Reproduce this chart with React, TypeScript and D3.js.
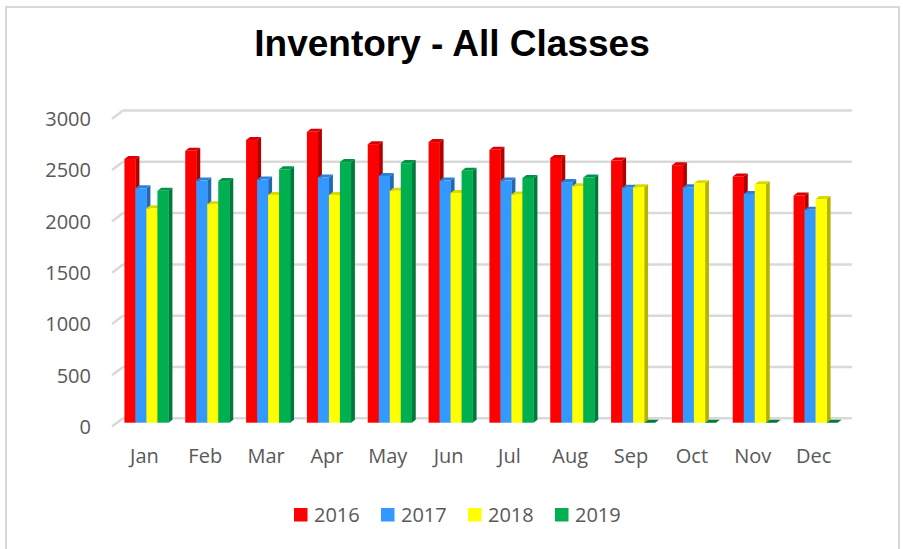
import { useEffect, useRef } from "react";
import * as d3 from "d3";

const months = ["Jan", "Feb", "Mar", "Apr", "May", "Jun", "Jul", "Aug", "Sep", "Oct", "Nov", "Dec"];
const years = ["2016", "2017", "2018", "2019"];

const values2016 = [2570, 2650, 2755, 2835, 2715, 2735, 2660, 2580, 2555, 2510, 2400, 2215];
const values2017 = [2285, 2360, 2370, 2390, 2405, 2360, 2360, 2345, 2290, 2295, 2230, 2075];
const values2018 = [2090, 2130, 2220, 2220, 2260, 2240, 2225, 2305, 2295, 2335, 2325, 2180];
const values2019 = [2260, 2355, 2470, 2540, 2530, 2455, 2385, 2390, 0, 0, 0, 0];

const yTicks = [0, 500, 1000, 1500, 2000, 2500, 3000];

const frontColors = ["#ff0000", "#3399ff", "#ffff00", "#00b050"];
const sideColors = ["#b00000", "#2468b0", "#b3b300", "#00793a"];
const topColors = ["#d80000", "#2b80d8", "#d9d900", "#009544"];

const W = 903;
const H = 549;
const DEPTH_X = 4;
const DEPTH_Y = 3;
const GROUP_W = 44;

export default function App() {
  const svgRef = useRef<SVGSVGElement>(null);

  useEffect(() => {
    const svg = d3.select(svgRef.current);
    svg.selectAll("*").remove();
    svg.attr("width", W).attr("height", H).attr("viewBox", `0 0 ${W} ${H}`);

    svg.append("rect").attr("width", W).attr("height", H).attr("fill", "#ffffff");

    // Chart border (bottom edge runs off the page)
    svg.append("rect")
      .attr("x", 6)
      .attr("y", 7)
      .attr("width", 893)
      .attr("height", 600)
      .attr("fill", "none")
      .attr("stroke", "#d9d9d9")
      .attr("stroke-width", 2);

    // Title
    svg.append("text")
      .attr("x", 452)
      .attr("y", 56)
      .attr("text-anchor", "middle")
      .attr("font-family", "'Liberation Sans', Arial, sans-serif")
      .attr("font-weight", "bold")
      .attr("font-size", "37px")
      .attr("fill", "#000000")
      .text("Inventory - All Classes");

    const series = [values2016, values2017, values2018, values2019];

    const x0 = d3.scaleBand<string>().domain(months).range([116, 846]);
    const x1 = d3.scaleBand<string>().domain(years).range([0, GROUP_W]);
    const groupOffset = (x0.bandwidth() - GROUP_W) / 2;

    // front face scale
    const y = d3.scaleLinear().domain([0, 3000]).range([422.7, 114.9]);
    const backShift = -4.4;

    // Gridlines (back wall + short floor diagonal)
    const grid = svg.append("g");
    yTicks.forEach((t) => {
      const yb = y(t) + backShift;
      grid.append("line")
        .attr("x1", 123)
        .attr("x2", 852)
        .attr("y1", yb)
        .attr("y2", yb)
        .attr("stroke", "#d9d9d9")
        .attr("stroke-width", 2.5);
      grid.append("line")
        .attr("x1", 112)
        .attr("x2", 123)
        .attr("y1", yb + 8.3)
        .attr("y2", yb)
        .attr("stroke", "#d9d9d9")
        .attr("stroke-width", 2.5);

      svg.append("text")
        .attr("x", 91)
        .attr("y", yb + 8.3)
        .attr("dy", "0.36em")
        .attr("text-anchor", "end")
        .attr("font-family", "'Open Sans', sans-serif")
        .attr("font-size", "20px")
        .attr("fill", "#595959")
        .text(String(t));
    });

    // 3D bars
    const bars = svg.append("g");
    months.forEach((m, i) => {
      years.forEach((yr, s) => {
        const v = series[s][i];
        const bx = (x0(m) ?? 0) + groupOffset + (x1(yr) ?? 0);
        const bw = x1.bandwidth();
        const top = y(v);
        const bottom = y(0);

        // side face
        bars.append("polygon")
          .attr("points", [
            [bx + bw, top],
            [bx + bw + DEPTH_X, top - DEPTH_Y],
            [bx + bw + DEPTH_X, bottom - DEPTH_Y],
            [bx + bw, bottom],
          ].map((p) => p.join(",")).join(" "))
          .attr("fill", sideColors[s]);

        // top face
        bars.append("polygon")
          .attr("points", [
            [bx, top],
            [bx + DEPTH_X, top - DEPTH_Y],
            [bx + bw + DEPTH_X, top - DEPTH_Y],
            [bx + bw, top],
          ].map((p) => p.join(",")).join(" "))
          .attr("fill", v > 0 ? topColors[s] : sideColors[s]);

        // front face
        if (v > 0) {
          bars.append("rect")
            .attr("x", bx)
            .attr("y", top)
            .attr("width", bw + 0.3)
            .attr("height", bottom - top)
            .attr("fill", frontColors[s]);
        }
      });
    });

    // X labels
    months.forEach((m) => {
      svg.append("text")
        .attr("x", (x0(m) ?? 0) + x0.bandwidth() / 2 - 2)
        .attr("y", 463)
        .attr("text-anchor", "middle")
        .attr("font-family", "'Open Sans', sans-serif")
        .attr("font-size", "20px")
        .attr("fill", "#595959")
        .text(m);
    });

    // Legend
    const legend = svg.append("g").attr("transform", "translate(294,508)");
    years.forEach((yr, s) => {
      const lg = legend.append("g").attr("transform", `translate(${s * 87},0)`);
      lg.append("rect")
        .attr("width", 13.5)
        .attr("height", 13.5)
        .attr("fill", frontColors[s]);
      lg.append("text")
        .attr("x", 20)
        .attr("y", 14)
        .attr("font-family", "'Open Sans', sans-serif")
        .attr("font-size", "20px")
        .attr("fill", "#595959")
        .text(yr);
    });
  }, []);

  return (
    <svg
      ref={svgRef}
      style={{ position: "absolute", left: 0, top: 0, display: "block" }}
    />
  );
}
